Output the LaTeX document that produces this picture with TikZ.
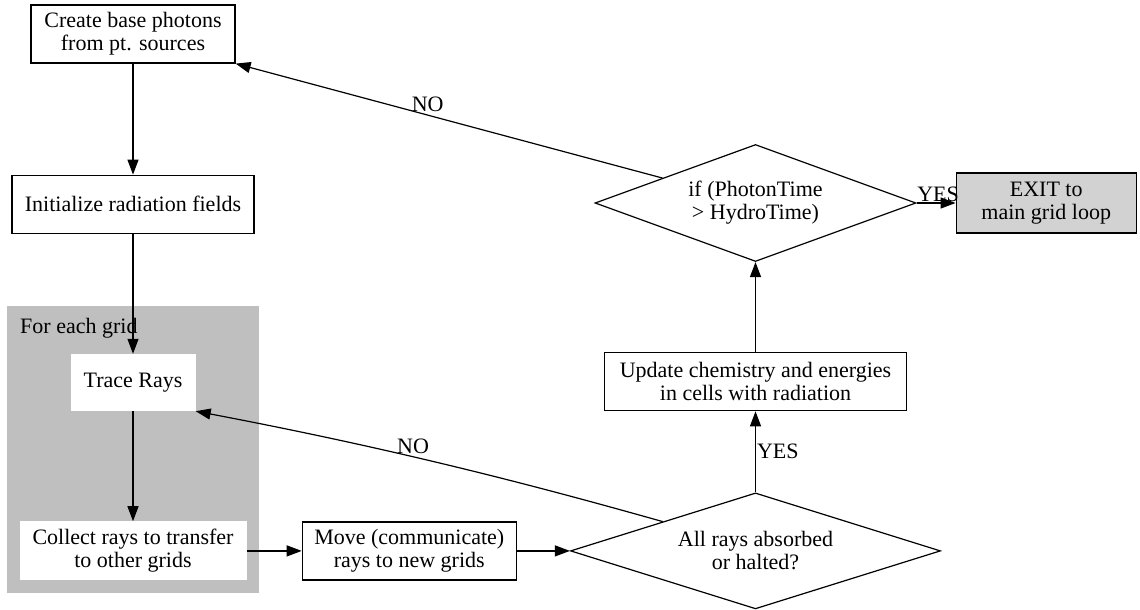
\documentclass[tikz,border=0pt]{standalone}
\usepackage{fontspec}
\setmainfont{Liberation Serif}
\usetikzlibrary{positioning,arrows.meta,shapes.geometric,fit,backgrounds}

\begin{document}
\begin{tikzpicture}[
    x=1pt, y=-1pt,
    font=\fontsize{22}{23}\selectfont,
    >={Triangle[length=15pt, width=11pt]},
    box/.style   ={draw, line width=1.2pt, align=center, inner sep=0pt},
    inbox/.style ={fill=white, align=center, inner sep=0pt},
    test/.style  ={draw, diamond, line width=1.2pt, align=center, inner sep=0pt},
    exitbox/.style={box, fill=gray!35},
    lbl/.style   ={inner sep=1pt},
    flow/.style  ={->, line width=1.2pt},
  ]
  \useasboundingbox (0,0) rectangle (1140,610);

  % ------------------------------------------------------------ left column ---
  \node[box, minimum width=204pt, minimum height=58pt] at (133,34) (create)
        {Create base photons\\from pt. sources};
  \node[box, minimum width=242pt, minimum height=58pt, below=111pt of create] (init)
        {Initialize radiation fields};
  \node[inbox, minimum width=125pt, minimum height=57pt, below=120pt of init] (trace)
        {Trace Rays};
  \node[inbox, minimum width=227pt, minimum height=59pt, below=110pt of trace] (collect)
        {Collect rays to transfer\\to other grids};
  \node[anchor=base west, inner sep=0pt] at (20,333) (gtitle) {For each grid};

  \begin{scope}[on background layer]
    \node[fill=gray!50, inner sep=12pt, fit=(gtitle)(trace)(collect)] (grid) {};
  \end{scope}

  % ------------------------------------------------------------ bottom row ---
  \node[box, minimum width=214pt, minimum height=58pt, right=55pt of collect] (move)
        {Move (communicate)\\rays to new grids};
  \node[test, aspect=3.19, minimum width=370pt, minimum height=116pt,
        right=53pt of move] (done)
        {All rays absorbed\\or halted?};

  % ----------------------------------------------------------- right column ---
  \node[box, minimum width=302pt, minimum height=58pt, above=81pt of done] (update)
        {Update chemistry and energies\\in cells with radiation};
  \node[test, aspect=2.74, minimum width=321pt, minimum height=117pt,
        above=90pt of update] (timechk)
        {if (PhotonTime\\ \textgreater\ HydroTime)};
  \node[exitbox, minimum width=180pt, minimum height=60pt, right=39pt of timechk] (exit)
        {EXIT to\\main grid loop};

  % ===================================================== edges ================
  \draw[flow] (create) -- (init);
  \draw[flow] (init) -- (trace);
  \draw[flow] (trace) -- (collect);
  \draw[flow] (collect) -- (move);
  \draw[flow] (move) -- (done);

  \draw[flow] (done) -- (update)
        node[lbl, pos=0.5, right]{YES};
  \draw[flow] (update) -- (timechk);
  \draw[flow] (timechk) -- (exit)
        node[lbl, midway, above, xshift=2pt]{YES};

  % loop back when not finished
  \draw[flow] (timechk) -- (create.south east)
        node[lbl, pos=0.55, above, yshift=2pt]{NO};
  \draw[flow] (done.north west) .. controls (540,487) and (400,450) .. (trace.south east)
        node[lbl, pos=0.6, above, yshift=2pt]{NO};

\end{tikzpicture}
\end{document}
